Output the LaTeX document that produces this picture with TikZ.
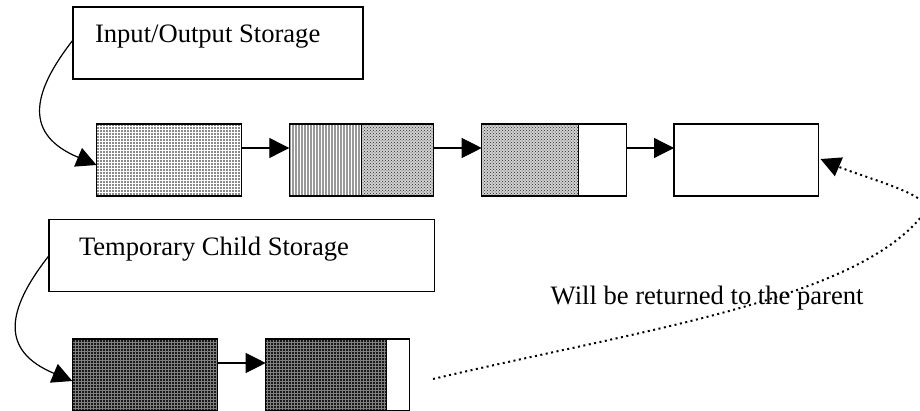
\documentclass[tikz,border=0pt]{standalone}
\usepackage{fontspec}
\setmainfont{Liberation Serif}
\usetikzlibrary{arrows.meta,patterns}

\begin{document}
\begin{tikzpicture}[x=1pt,y=-1pt,
  every node/.style={font=\fontsize{26.6}{30}\selectfont},
  cell/.style={draw, line width=1.3pt, minimum height=72pt, inner sep=0pt, outer sep=0pt, anchor=north west},
  tag/.style={draw, line width=1.6pt, inner sep=0pt, outer sep=0pt, anchor=north west},
  lightgrid/.style={fill=black!46, postaction={pattern=grid, pattern color=white}},
  lightstripes/.style={fill=black!40, postaction={pattern=vertical lines, pattern color=white}},
  checker/.style={fill=black!18, postaction={pattern=crosshatch dots, pattern color=black!85}},
  darkgrid/.style={fill=black!90, postaction={pattern=grid, pattern color=black!50}},
  whole/.style={path picture={\fill[#1] (path picture bounding box.north west) rectangle (path picture bounding box.south east);}},
  link/.style={line width=1.2pt, -{Triangle[length=20pt,width=20pt]}},
  retlink/.style={line width=2pt, dash pattern=on 2pt off 3.5pt, -{Triangle[length=20pt,width=20pt]}},
  caption/.style={anchor=base west, inner sep=0pt, outer sep=0pt},
]
\fill[white] (0,0) rectangle (920,411);
\useasboundingbox (0,0) rectangle (920,411);

% labels of the two storages
\node[tag, minimum width=290pt, minimum height=72pt] (io) at (73,7) {};
\node[caption] (iotext) at (95,43) {Input/Output Storage};
\node[tag, minimum width=385.3pt, minimum height=72.2pt] (tc) at (49,219.5) {};
\node[caption] (tctext) at (79,255.3) {Temporary Child Storage};

% input/output chain
\node[cell, minimum width=145.2pt, whole=lightgrid] (b1) at (96.5,124) {};
\node[cell, minimum width=144pt, path picture={
    \fill[lightstripes] (path picture bounding box.north west) rectangle ([xshift=72.4pt]path picture bounding box.south west);
    \fill[checker] ([xshift=72.4pt]path picture bounding box.north west) rectangle (path picture bounding box.south east);}] (b2) at (289.3,124) {};
\draw[line width=1.3pt] ([xshift=72.4pt]b2.north west) -- ([xshift=72.4pt]b2.south west);
\node[cell, minimum width=145pt, path picture={
    \fill[checker] (path picture bounding box.north west) rectangle ([xshift=96.6pt]path picture bounding box.south west);}] (b3) at (481.7,124) {};
\draw[line width=1.3pt] ([xshift=96.6pt]b3.north west) -- ([xshift=96.6pt]b3.south west);
\node[cell, minimum width=144.5pt] (b4) at (674,124) {};

% temporary child chain
\node[cell, minimum width=145pt, whole=darkgrid] (b5) at (72.3,339) {};
\node[cell, minimum width=143.6pt, path picture={
    \fill[darkgrid] (path picture bounding box.north west) rectangle ([xshift=121pt]path picture bounding box.south west);}] (b6) at (265.7,339) {};
\draw[line width=1.3pt] ([xshift=121pt]b6.north west) -- ([xshift=121pt]b6.south west);

% links between blocks
\draw[link] ([yshift=12pt]b1.east) -- ([yshift=12pt]b2.west);
\draw[link] ([yshift=12pt]b2.east) -- ([yshift=12pt]b3.west);
\draw[link] ([yshift=12pt]b3.east) -- ([yshift=12pt]b4.west);
\draw[link] ([yshift=12pt]b5.east) -- ([yshift=12pt]b6.west);

% labels point at their first block
\draw[link] ([yshift=3pt]io.west) .. controls (30,95) and (25,135) .. ([yshift=-5pt]b1.west);
\draw[link] (tc.west) .. controls (5.5,311) and (0.5,351) .. ([yshift=-6pt]b5.west);

% child blocks handed back to the parent
\coordinate (ret0) at (433,379);
\coordinate (turn) at (925,212);
\draw[retlink] (ret0) .. controls (640,330) and (860,300) .. (turn)
  .. controls (937,196) and (865,178) .. ([xshift=2pt,yshift=1pt]b4.east);
\node[caption] (rettext) at (550.7,305) {Will be returned to the parent};
\end{tikzpicture}
\end{document}
